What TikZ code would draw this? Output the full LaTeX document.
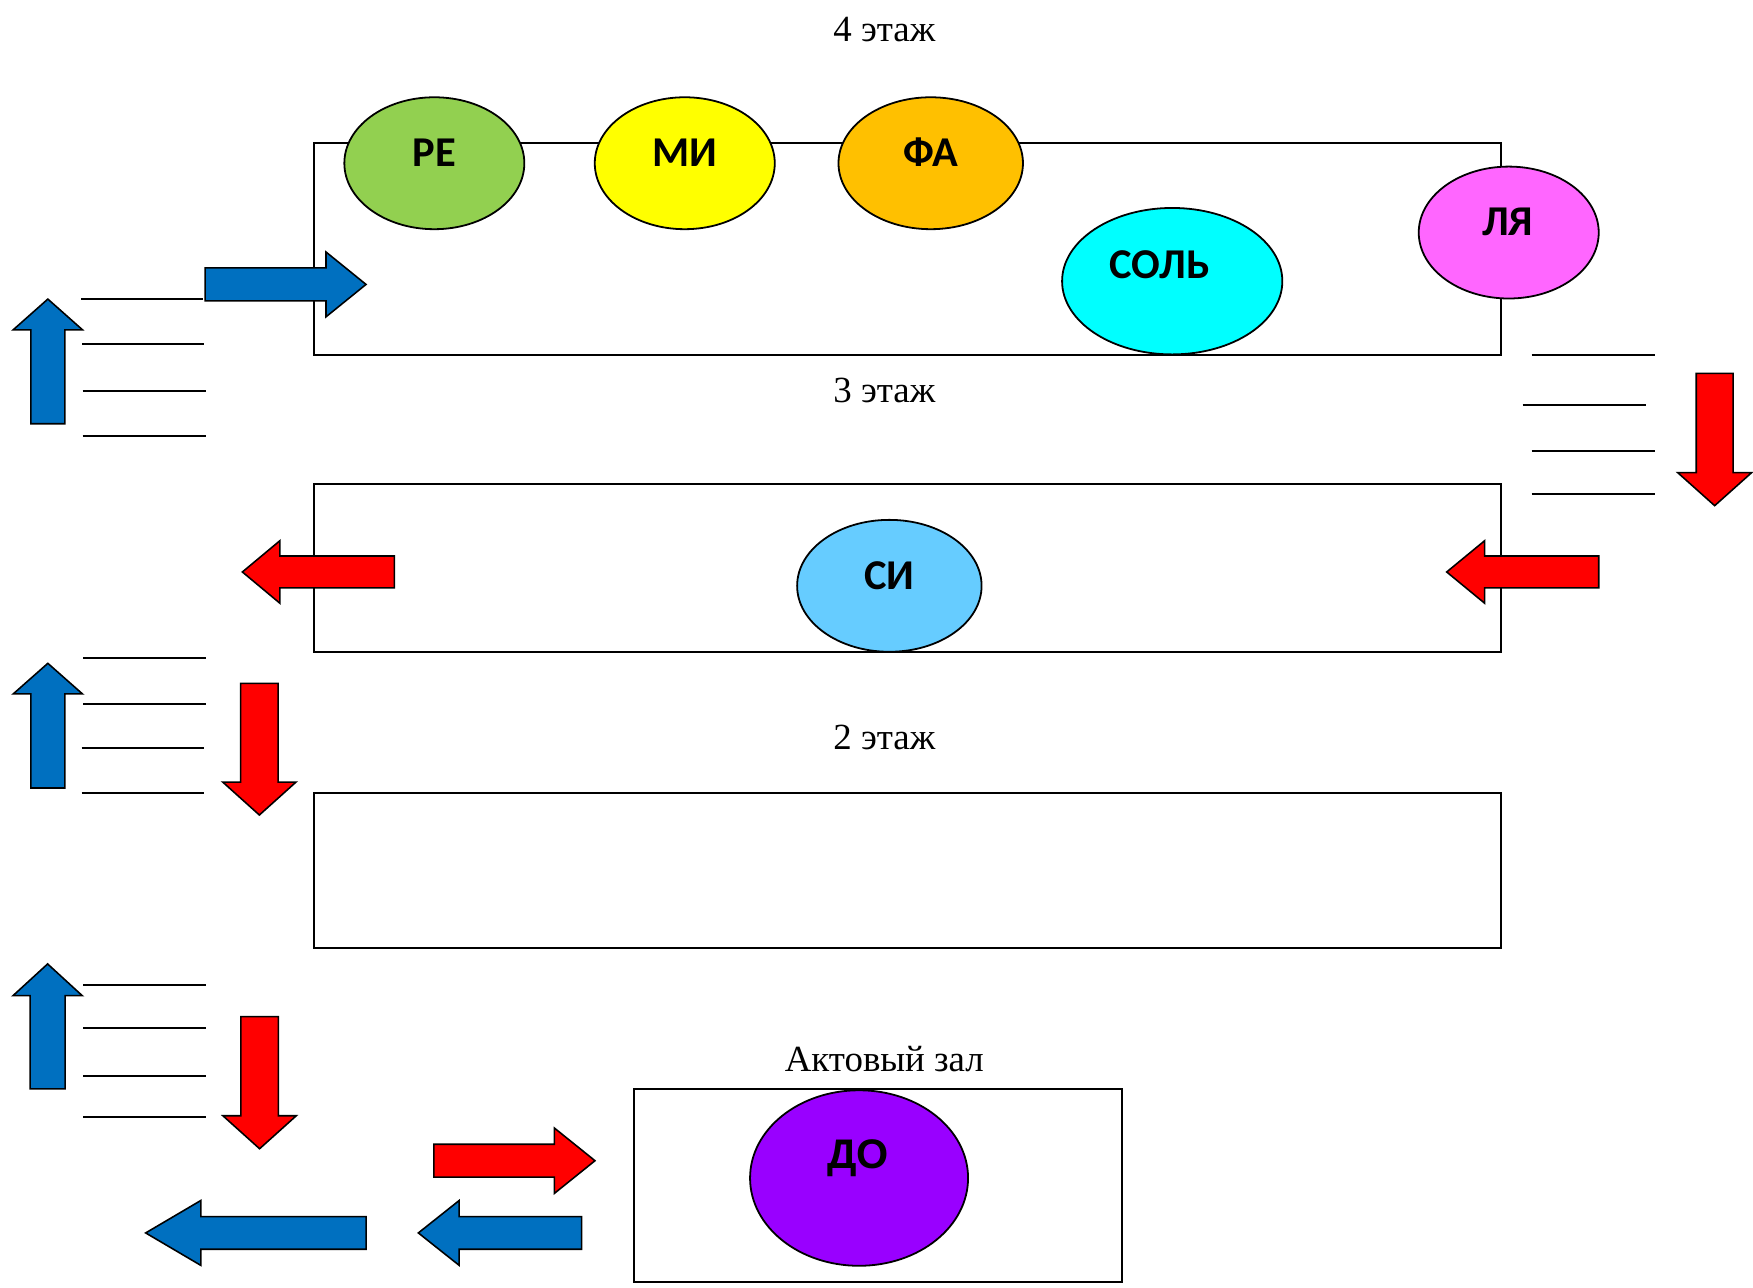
\documentclass[tikz,border=0pt]{standalone}
\usepackage{fontspec}
\usetikzlibrary{shapes.geometric}
\setmainfont{Liberation Serif}
\newfontfamily\notefont{Carlito}
\newfontfamily\arialfont{Liberation Sans}
\definecolor{reGreen}{HTML}{92D050}
\definecolor{miYellow}{HTML}{FFFF00}
\definecolor{faOrange}{HTML}{FFC000}
\definecolor{solCyan}{HTML}{00FFFF}
\definecolor{lyaPink}{HTML}{FF66FF}
\definecolor{siBlue}{HTML}{66CCFF}
\definecolor{doPurple}{HTML}{9900FF}
\definecolor{arrBlue}{HTML}{0070C0}
\definecolor{arrRed}{HTML}{FF0000}
% horizontal block arrow: color, y, tail x, head-base x, tip x, head half, shaft half
\newcommand\harr[7]{%
  \filldraw[fill=#1, draw=black, line width=1.4pt, line join=miter]
    (#3,#2-#7) -- (#4,#2-#7) -- (#4,#2-#6) -- (#5,#2) -- (#4,#2+#6) -- (#4,#2+#7) -- (#3,#2+#7) -- cycle;}
% vertical block arrow: color, x, tail y, head-base y, tip y, head half, shaft half
\newcommand\varr[7]{%
  \filldraw[fill=#1, draw=black, line width=1.4pt, line join=miter]
    (#2-#7,#3) -- (#2-#7,#4) -- (#2-#6,#4) -- (#2,#5) -- (#2+#6,#4) -- (#2+#7,#4) -- (#2+#7,#3) -- cycle;}
\begin{document}
\begin{tikzpicture}[x=1pt,y=-1pt,
  floor/.style={draw=black, line width=1.8pt},
  stair/.style={draw=black, line width=1.6pt},
  floorlabel/.style={font=\fontsize{33}{40}\selectfont, anchor=base, inner sep=0pt},
  note/.style={ellipse, draw=black, line width=1.6pt, inner sep=0pt},
  notelabel/.style={font=\notefont\bfseries\fontsize{38}{42}\selectfont, anchor=base, inner sep=0pt}]
\useasboundingbox (0,0) rectangle (1568,1152);
\fill[white] (0,0) rectangle (1568,1152);

% floor labels
\node[floorlabel] (t4) at (791,37) {4 этаж};
\node[floorlabel] (t3) at (791,360) {3 этаж};
\node[floorlabel] (t2) at (791,670) {2 этаж};
\node[floorlabel] (ta) at (791,958.5) {Актовый зал};

% floors
\draw[floor] (281,128) rectangle (1343,317.5);
\draw[floor] (281,433) rectangle (1343,583.5);
\draw[floor] (281,709.5) rectangle (1343,848);
\draw[floor] (567.5,974.4) rectangle (1003.5,1146.4);

% notes (ellipses)
\node[note, fill=reGreen, minimum width=161pt, minimum height=118pt] (reE) at (388.5,146) {};
\node[note, fill=miYellow, minimum width=161pt, minimum height=118pt] (miE) at (612.5,146) {};
\node[note, fill=faOrange, minimum width=165pt, minimum height=118pt] (faE) at (832.5,146) {};
\node[note, fill=solCyan, minimum width=197pt, minimum height=131pt] (solE) at (1048.5,251.5) {};
\node[note, fill=lyaPink, minimum width=161pt, minimum height=118pt] (lyaE) at (1349.5,208) {};
\node[note, fill=siBlue, minimum width=165pt, minimum height=118pt] (siE) at (795.5,524) {};
\node[note, fill=doPurple, minimum width=195pt, minimum height=157pt] (doE) at (768.4,1053.7) {};

\node[notelabel] (re) at (388.5,149) {РЕ};
\node[notelabel] (mi) at (612.5,149) {МИ};
\node[notelabel] (fa) at (832.5,149) {ФА};
\node[notelabel] (sol) at (1037,249) {СОЛЬ};
\node[notelabel] (lya) at (1348.5,211) {ЛЯ};
\node[notelabel] (si) at (795.5,527) {СИ};
\node[notelabel, font=\arialfont\bfseries\fontsize{37}{40}\selectfont] (do) at (767.7,1045) {ДО};

% stairs, left top
\draw[stair] (72.5,267.4) -- (181.6,267.4);
\draw[stair] (73.5,307.7) -- (182.5,307.7);
\draw[stair] (74,349.7) -- (184,349.7);
\draw[stair] (74,390) -- (184,390);
% stairs, right
\draw[stair] (1370,317.5) -- (1480,317.5);
\draw[stair] (1362,362.5) -- (1472,362.5);
\draw[stair] (1370,403.4) -- (1480,403.4);
\draw[stair] (1370,441.6) -- (1480,441.6);
% stairs, left middle
\draw[stair] (74.5,588.8) -- (184.2,588.8);
\draw[stair] (74.5,630) -- (184.2,630);
\draw[stair] (73,669) -- (182.8,669);
\draw[stair] (73,709.6) -- (182.8,709.6);
% stairs, left bottom
\draw[stair] (74.5,881) -- (184.7,881);
\draw[stair] (74.5,919.5) -- (184.7,919.5);
\draw[stair] (74.5,962.5) -- (184.7,962.5);
\draw[stair] (74.5,999) -- (184.7,999);

% vertical arrows
\varr{arrBlue}{42.8}{379}{295}{267.5}{31}{15.2}
\varr{arrBlue}{42.8}{704.8}{620.7}{593.3}{31}{15.2}
\varr{arrBlue}{42.6}{974}{890.6}{862.2}{31}{15.6}
\varr{arrRed}{1533.7}{334}{422.8}{452.3}{33}{16.5}
\varr{arrRed}{232}{611.2}{699.5}{729}{32.8}{16.7}
\varr{arrRed}{232.2}{909.4}{998}{1027.5}{32.8}{16.8}

% horizontal arrows
\harr{arrBlue}{254.4}{183.4}{291.6}{327.4}{29}{14.75}
\harr{arrRed}{511.6}{352.7}{250.4}{216.8}{28}{14.3}
\harr{arrRed}{511.6}{1430}{1328}{1294}{28}{14.3}
\harr{arrRed}{1038.2}{388}{495.8}{532.2}{29.3}{14.75}
\harr{arrBlue}{1102.8}{327.4}{179.6}{130.3}{29}{14.6}
\harr{arrBlue}{1102.8}{520.2}{410.7}{374.2}{29}{14.6}
\end{tikzpicture}
\end{document}
